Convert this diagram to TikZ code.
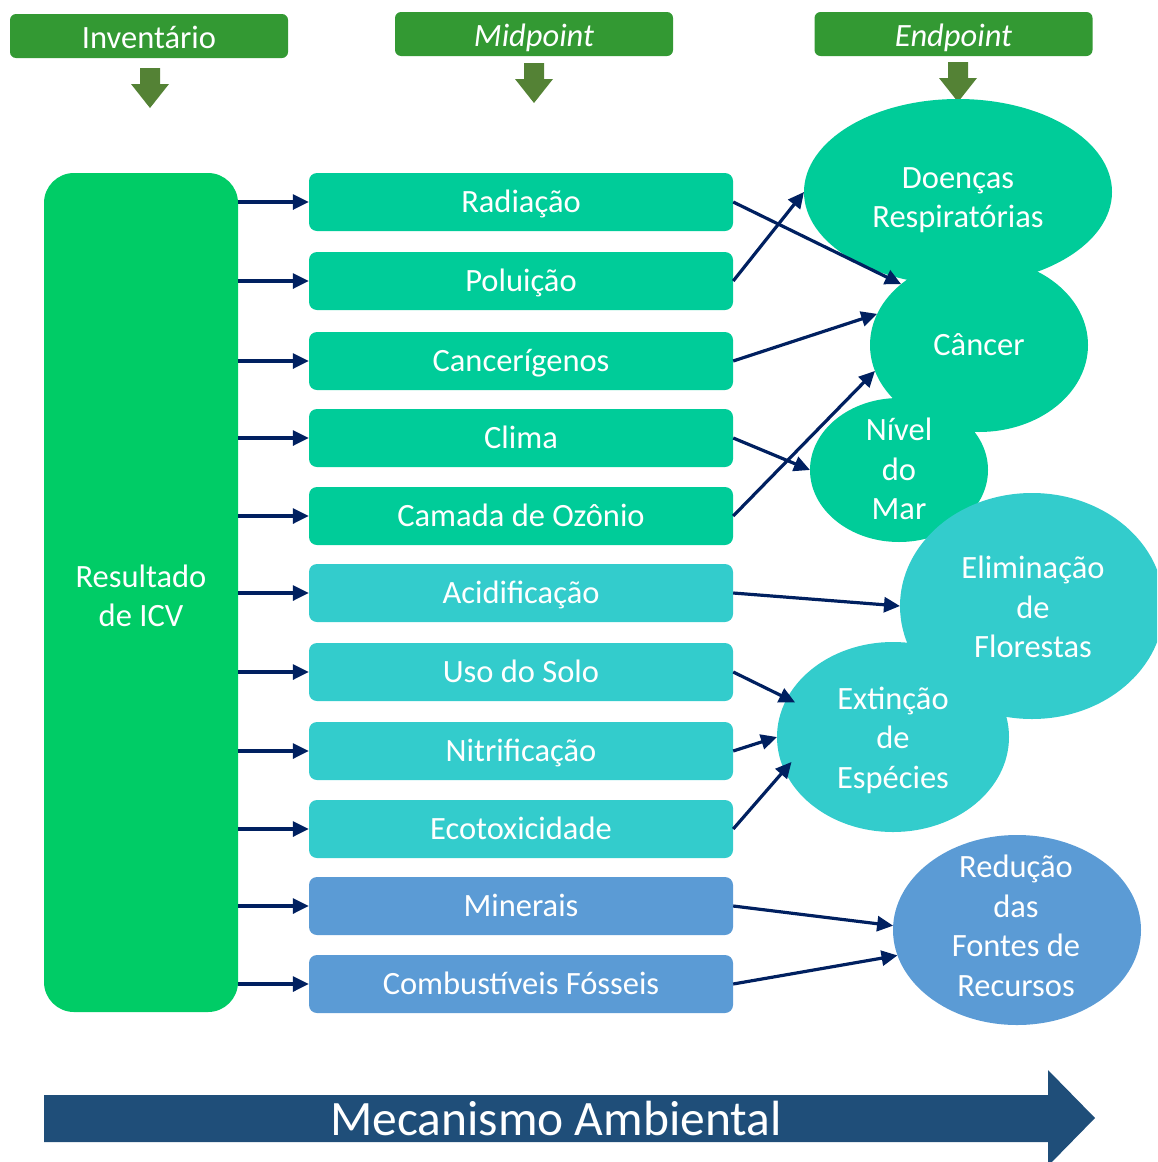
\documentclass[tikz,border=0pt]{standalone}
\usepackage{fontspec}
\setmainfont{Carlito}
\usetikzlibrary{arrows.meta,shapes.geometric}
\definecolor{hdr}{HTML}{339933}
\definecolor{darr}{HTML}{548235}
\definecolor{lgreen}{HTML}{00CC66}
\definecolor{teal}{HTML}{00CC99}
\definecolor{cyanb}{HTML}{33CCCC}
\definecolor{blueb}{HTML}{5B9BD5}
\definecolor{navy}{HTML}{002060}
\definecolor{barrow}{HTML}{1F4E79}
\begin{document}
\begin{tikzpicture}[x=1pt,y=-1pt,
  txt/.style={text=white, font=\fontsize{32.5}{39.5}\selectfont},
  hdrbox/.style={txt, fill=hdr, rounded corners=6pt, minimum width=278pt, minimum height=44pt, inner sep=0pt, text height=25pt, text depth=1pt},
  mbox/.style={txt, rounded corners=8pt, minimum width=424pt, minimum height=58pt, inner sep=0pt, text height=24pt, text depth=4pt},
  ell/.style={ellipse, inner sep=0pt, outer sep=0pt},
  etext/.style={txt, align=center, inner sep=0pt},
  link/.style={draw=navy, line width=3.2pt, -{Triangle[length=16pt,width=15pt]}},
  downarrow/.pic={\fill[darr] (-10,0) -- (10,0) -- (10,16) -- (19,16) -- (0,40) -- (-19,16) -- (-10,16) -- cycle;}
]
\useasboundingbox (0,0) rectangle (1157,1162);
\clip (0,0) rectangle (1157,1162);

% headers
\node[hdrbox] (hinv) at (149,36) {Inventário};
\node[hdrbox] (hmid) at (534,34) {\itshape Midpoint};
\node[hdrbox] (hend) at (953.5,34) {\itshape Endpoint};
\pic at (150,68) {downarrow};
\pic at (534,63) {downarrow};
\pic at (958,62) {downarrow};

% inventory result
\node[fill=lgreen, rounded corners=30pt, minimum width=194pt, minimum height=839pt, inner sep=0pt] (icv) at (141,592.5) {};
\node[etext] (icvT) at (141,596) {Resultado\\de ICV};

% midpoint boxes
\node[mbox, fill=teal] (r1) at (521,202) {Radiação};
\node[mbox, fill=teal] (r2) at (521,281) {Poluição};
\node[mbox, fill=teal] (r3) at (521,361) {Cancerígenos};
\node[mbox, fill=teal] (r4) at (521,438) {Clima};
\node[mbox, fill=teal] (r5) at (521,516) {Camada de Ozônio};
\node[mbox, fill=cyanb] (r6) at (521,593) {Acidificação};
\node[mbox, fill=cyanb] (r7) at (521,672) {Uso do Solo};
\node[mbox, fill=cyanb] (r8) at (521,751) {Nitrificação};
\node[mbox, fill=cyanb] (r9) at (521,829) {Ecotoxicidade};
\node[mbox, fill=blueb] (r10) at (521,906) {Minerais};
\node[mbox, fill=blueb] (r11) at (521,984) {Combustíveis Fósseis};

% endpoint ellipses
\node[ell, fill=teal, minimum width=308pt, minimum height=186pt] (doe) at (958,192) {};
\node[ell, fill=teal, minimum width=218pt, minimum height=174pt] (can) at (979,345) {};
\node[ell, fill=teal, minimum width=178pt, minimum height=144pt] (niv) at (899,470) {};
\node[ell, fill=cyanb, minimum width=264pt, minimum height=226pt] (eli) at (1032,606) {};
\node[ell, fill=cyanb, minimum width=232pt, minimum height=190pt] (ext) at (893,737) {};
\node[ell, fill=blueb, minimum width=248pt, minimum height=190pt] (red) at (1017,930) {};

\node[etext] (doeT) at (958,200) {Doenças\\Respiratórias};
\node[etext] (canT) at (979,345) {Câncer};
\node[etext] (nivT) at (899,469) {Nível\\do\\Mar};
\node[etext] (eliT) at (1033,607) {Eliminação\\de\\Florestas};
\node[etext] (extT) at (893,740) {Extinção\\de\\Espécies};
\node[etext] (redT) at (1016,926) {Redução\\das\\Fontes de\\Recursos};

% links from inventory
\foreach \b in {r1,r2,r3,r4,r5,r6,r7,r8,r9,r10,r11}
  \draw[link] (icv.east |- \b.west) -- (\b.west);

% links to endpoints
\draw[link] (r1.east) -- (can.142);
\draw[link] (r2.east) -- (doe.west);
\draw[link] (r3.east) -- (can.163);
\draw[link] (r4.east) -- (niv.west);
\draw[link] (r5.east) -- (can.194);
\draw[link] (r6.east) -- (eli.west);
\draw[link, shorten >=-9pt] (r7.east) -- (ext.160);
\draw[link] (r8.east) -- (ext.west);
\draw[link, shorten >=-11pt] (r9.east) -- (ext.197);
\draw[link] (r10.east) -- (red.178);
\draw[link] (r11.east) -- (red.192);

% mechanism arrow
\fill[barrow] (44,1095) -- (1048,1095) -- (1048,1070) -- (1095,1118) -- (1048,1166) -- (1048,1142) -- (44,1142) -- cycle;
\node[text=white, font=\fontsize{49.5}{50}\selectfont] (mec) at (556,1118) {Mecanismo Ambiental};
\end{tikzpicture}
\end{document}
